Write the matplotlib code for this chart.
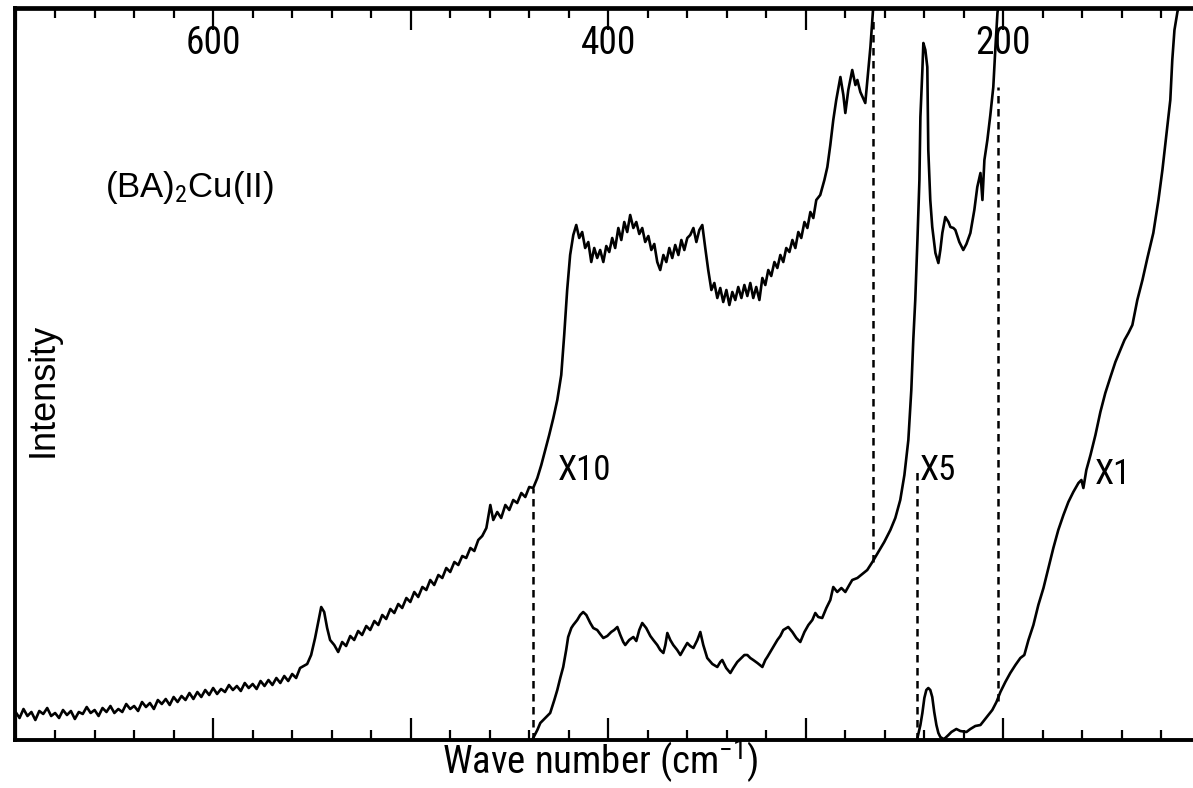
import matplotlib
matplotlib.use("Agg")
import matplotlib.pyplot as plt
from matplotlib import font_manager
from matplotlib.ticker import MultipleLocator, NullFormatter

# ---------------- data (wavenumber cm^-1, intensity arb. units) ----------------
# X10 trace: noisy baseline part
x10_base_w = [700, 698, 696, 694, 692, 690, 688, 686, 684, 682, 680, 678, 676, 674, 672, 670,
              668, 666, 664, 662, 660, 658, 656, 654, 652, 650, 648, 646, 644, 642, 640, 638,
              636, 634, 632, 630, 628, 626, 624, 622, 620, 618, 616, 614, 612, 610, 608, 606,
              604, 602, 600, 598, 596, 594, 592, 590, 588, 586, 584, 582, 580, 578, 576, 574,
              572, 570, 568, 566, 564, 562, 560, 558, 556]
x10_base_i = [2.8, 2.2, 3.1, 2.4, 2.8, 2.0, 2.9, 2.6, 3.2, 2.4, 2.7, 2.2, 3.0, 2.5, 2.9, 2.1,
              2.8, 2.6, 3.3, 2.7, 3.0, 2.4, 3.2, 2.8, 3.4, 2.7, 3.1, 2.8, 3.6, 3.1, 3.4, 2.9,
              3.8, 3.3, 3.7, 3.1, 4.0, 3.6, 4.1, 3.5, 4.3, 3.8, 4.4, 4.0, 4.7, 4.1, 4.8, 4.3,
              5.0, 4.5, 5.2, 4.6, 5.1, 4.8, 5.5, 5.0, 5.4, 4.9, 5.7, 5.2, 5.6, 5.1, 5.9, 5.4,
              6.0, 5.5, 6.2, 5.7, 6.4, 5.9, 6.6, 6.2, 7.2]
# X10 trace: band region
x10_band_w = [552.4, 550.4, 548.4, 546.8, 545.3, 543.8, 542.3, 540.8, 538.7, 536.7, 534.7, 532.7,
              530.6, 528.6, 526.6, 524.6, 522.5, 520.5, 518.4, 516.4, 514.4, 512.4, 510.3, 508.3,
              506.3, 504.3, 502.2, 500.2, 498.2, 496.2, 494.1, 492.1, 490.1, 488.1, 486.0, 484.0,
              482.0, 480.0, 477.9, 475.9, 473.9, 471.9, 469.8, 467.8, 465.8, 463.8, 461.7, 459.7,
              458.2, 456.2, 454.2, 452.1, 450.1, 448.1, 446.1, 444.0, 442.0, 440.0, 438.0, 435.9,
              433.9, 431.9, 429.9, 427.8, 425.8, 423.8, 422.3, 420.8, 419.3, 417.7, 416.2, 414.7,
              413.2, 411.7, 410.1, 408.6, 407.1, 405.6, 404.1, 402.5, 401.0, 399.5, 398.0, 396.5,
              394.9, 393.4, 391.9, 390.4, 388.9, 387.3, 385.8, 384.3, 382.8, 381.3, 379.7, 378.2,
              376.7, 375.2, 373.7, 372.1, 370.6, 369.1, 367.6, 366.1, 364.5, 363.0, 361.5, 360.0,
              358.5, 356.9, 355.4, 353.9, 352.4, 350.9, 349.4, 347.8, 346.3, 344.8, 343.3, 341.8,
              340.2, 338.7, 337.2, 335.7, 334.2, 332.6, 331.1, 329.6, 328.1, 326.6, 325.1, 323.5,
              322.0, 320.5, 319.0, 317.5, 315.9, 314.4, 312.9, 311.4, 309.9, 308.3, 306.8, 305.3,
              303.8, 302.3, 300.7, 299.2, 297.7, 296.2, 294.7, 292.7, 290.6, 289.1, 287.6, 286.1,
              284.6, 282.5, 281.0, 280.0, 278.5, 276.5, 274.9, 273.9, 272.4, 269.9, 268.4, 267.3,
              265.8]
x10_band_i = [7.6, 8.5, 10.2, 11.8, 13.3, 12.8, 11.2, 10.0, 9.5, 8.8, 9.8, 9.4,
              10.4, 10.0, 10.9, 10.5, 11.4, 11.0, 11.9, 11.5, 12.5, 12.1, 13.1, 12.7,
              13.6, 13.2, 14.2, 13.8, 14.8, 14.3, 15.3, 15.0, 16.0, 15.5, 16.5, 16.2,
              17.2, 16.8, 17.8, 17.5, 18.4, 18.2, 19.2, 18.9, 20.0, 20.4, 21.2, 23.5,
              22.0, 22.8, 22.2, 23.5, 23.0, 24.0, 23.7, 24.7, 24.3, 25.3, 25.2, 26.2,
              27.5, 29.0, 30.5, 32.2, 34.0, 36.5, 40.5, 45.0, 48.5, 50.5, 51.5, 50.2,
              50.8, 49.2, 49.8, 47.8, 49.2, 48.2, 49.0, 47.8, 49.4, 48.8, 50.2, 49.2,
              51.2, 50.0, 51.8, 50.8, 52.5, 51.2, 51.8, 50.6, 51.2, 49.8, 50.4, 49.0,
              49.6, 47.8, 47.0, 48.5, 47.8, 49.2, 48.2, 49.5, 48.5, 50.0, 49.0, 50.2,
              50.5, 51.2, 49.8, 51.0, 51.5, 49.2, 47.0, 45.0, 45.7, 44.2, 45.2, 43.8,
              45.0, 43.5, 44.8, 44.0, 45.3, 44.2, 45.5, 44.4, 45.7, 44.2, 45.3, 44.0,
              46.2, 45.5, 47.0, 46.4, 47.8, 47.2, 48.5, 47.8, 49.2, 48.8, 50.0, 49.2,
              50.8, 50.2, 51.8, 51.2, 52.8, 52.2, 54.0, 54.5, 56.0, 57.3, 59.5, 62.0,
              64.0, 66.3, 64.5, 62.7, 65.0, 67.0, 65.5, 66.0, 64.8, 63.7, 67.0, 69.3,
              73.5]

# X5 trace
x5_w = [438.0, 435.9, 434.4, 431.9, 429.4, 427.3, 425.8, 424.3, 422.8, 421.3, 420.3, 418.7,
        417.7, 415.7, 414.2, 412.7, 411.1, 409.1, 407.6, 405.6, 404.1, 402.5, 400.5, 398.5,
        397.0, 395.4, 393.9, 392.4, 391.4, 389.4, 387.3, 385.8, 384.3, 382.8, 380.8, 378.7,
        377.2, 375.2, 373.7, 372.1, 371.1, 370.1, 368.6, 367.1, 365.1, 363.5, 361.5, 360.0,
        358.5, 356.9, 354.9, 353.4, 351.9, 349.9, 347.3, 344.8, 343.3, 342.3, 340.3, 338.2,
        336.7, 334.7, 332.6, 331.1, 329.6, 328.1, 326.6, 324.5, 322.0, 320.5, 319.5, 318.0,
        315.9, 314.4, 312.9, 311.4, 308.9, 306.8, 304.8, 302.8, 300.7, 298.7, 296.7, 295.2,
        293.7, 291.7, 289.6, 287.6, 286.1, 284.1, 282.0, 280.0, 278.0, 276.5, 273.9, 271.4,
        268.9, 266.3, 263.3, 260.3, 257.2, 254.7, 252.2, 250.1, 248.1, 246.6, 245.6, 244.6,
        243.5, 242.5, 242.0, 241.0, 240.5, 239.5, 238.5, 238.0, 237.0, 236.0, 234.4, 232.9,
        231.9, 230.9, 229.4, 227.8, 226.8, 225.3, 224.3, 222.3, 220.3, 218.7, 216.7, 214.7,
        213.2, 211.6, 210.6, 209.6, 208.1, 206.6, 205.1, 204.1, 203.0, 202.5]
x5_i = [0.2, 1.0, 1.7, 2.2, 2.7, 4.0, 5.0, 6.2, 7.3, 9.0, 10.3, 11.2,
        11.5, 12.0, 12.5, 12.8, 12.5, 11.7, 11.2, 11.0, 10.6, 10.2, 10.4, 10.8,
        11.0, 11.3, 10.5, 9.8, 9.5, 10.0, 10.3, 9.9, 11.0, 11.7, 11.2, 10.4,
        10.0, 9.5, 9.0, 8.7, 9.5, 10.7, 10.0, 9.5, 9.0, 8.5, 9.2, 9.7,
        9.4, 9.2, 10.0, 10.8, 9.5, 8.2, 7.6, 7.3, 7.8, 8.0, 7.2, 6.7,
        7.2, 7.8, 8.2, 8.5, 8.5, 8.2, 8.0, 7.7, 7.3, 8.0, 8.3, 8.8,
        9.5, 10.0, 10.4, 11.0, 11.3, 10.8, 10.2, 9.8, 10.8, 11.5, 12.0, 12.7,
        12.3, 12.2, 13.2, 14.0, 15.3, 14.8, 15.2, 14.8, 15.5, 16.0, 16.2, 16.6,
        17.0, 17.8, 18.8, 19.8, 21.0, 22.2, 24.0, 26.5, 30.0, 35.0, 40.0, 44.0,
        50.0, 56.0, 62.3, 67.0, 69.7, 69.0, 67.3, 59.0, 54.0, 51.3, 48.7, 47.7,
        49.0, 50.7, 52.3, 51.8, 51.3, 51.2, 51.0, 49.8, 49.0, 49.6, 50.7, 53.0,
        55.3, 56.7, 54.0, 58.0, 60.0, 62.5, 65.3, 69.0, 72.7, 73.5]

# X1 trace
x1_w = [243.5, 242.0, 241.0, 240.0, 239.0, 238.0, 237.0, 236.0, 235.0, 233.9, 232.9, 231.9,
        230.4, 229.4, 227.8, 226.3, 223.8, 221.8, 218.7, 216.7, 214.2, 211.6, 209.6, 207.6,
        205.6, 203.5, 201.5, 199.0, 196.5, 193.9, 191.4, 189.4, 187.3, 184.8, 182.3, 179.7,
        177.2, 174.7, 172.2, 169.6, 167.1, 164.6, 162.0, 160.5, 159.5, 158.0, 155.9, 153.4,
        150.9, 148.4, 145.8, 143.3, 140.8, 138.7, 136.7, 134.7, 132.2, 129.6, 127.1, 124.1,
        121.5, 119.5, 117.5, 115.5, 114.5, 113.4, 111.9, 110.4]
x1_i = [0.2, 1.5, 2.7, 4.2, 5.0, 5.2, 5.0, 4.3, 2.8, 1.5, 0.7, 0.3,
        0.1, 0.2, 0.5, 0.8, 1.1, 0.9, 0.8, 1.1, 1.4, 1.5, 2.0, 2.5,
        3.0, 3.8, 4.8, 5.8, 6.7, 7.5, 8.2, 8.5, 10.0, 11.5, 13.5, 15.2,
        17.2, 19.2, 21.0, 22.5, 23.8, 24.8, 25.7, 26.0, 25.2, 27.0, 28.5, 30.5,
        32.8, 34.7, 36.3, 37.8, 39.0, 40.0, 40.7, 41.5, 44.0, 46.0, 48.2, 50.7,
        54.0, 57.0, 60.5, 64.0, 68.0, 71.0, 72.8, 74.0]

# dashed gain-change markers: (wavenumber, lower intensity, upper intensity)
marker_w = [438.0, 265.8, 243.8, 202.5]
marker_lo = [0.0, 17.8, 0.0, 3.9]
marker_hi = [25.2, 72.0, 27.0, 65.3]

# labels
tick_label_w = [600, 400, 200]
gain_labels = ["X10", "X5", "X1"]
gain_label_w = [412.0, 233.0, 144.5]
gain_label_i = [27.0, 27.0, 26.5]
sample_label = r"(BA)$_2$Cu(II)"
xlabel = r"Wave number (cm$^{-1}$)"
ylabel = "Intensity"

# ---------------- plotting ----------------
avail = {f.name for f in font_manager.fontManager.ttflist}
fam = [f for f in ["Liberation Sans Narrow", "Roboto Condensed", "Liberation Sans", "DejaVu Sans"] if f in avail]
wide = [f for f in ["Liberation Sans", "DejaVu Sans"] if f in avail]
plt.rcParams["font.family"] = fam
plt.rcParams["mathtext.fontset"] = "custom"
plt.rcParams["mathtext.rm"] = fam[0]
plt.rcParams["mathtext.it"] = fam[0]

W, H = 1193, 788
fig = plt.figure(figsize=(W / 100, H / 100), dpi=100)
ax = fig.add_axes([15 / W, 48 / H, 1180 / W, 732 / H])

lw = 1.9
ax.plot(x10_base_w + x10_band_w, x10_base_i + x10_band_i, color="black", lw=lw, solid_joinstyle="round")
ax.plot(x5_w, x5_i, color="black", lw=lw, solid_joinstyle="round")
ax.plot(x1_w, x1_i, color="black", lw=lw, solid_joinstyle="round")
for w, lo, hi in zip(marker_w, marker_lo, marker_hi):
    ax.plot([w, w], [lo, hi], color="black", lw=1.8, linestyle=(0, (3.0, 2.2)))

ax.set_xlim(700.3, 103.0)
ax.set_ylim(0, 73.2)

ax.xaxis.set_major_locator(MultipleLocator(100))
ax.xaxis.set_minor_locator(MultipleLocator(20))
ax.xaxis.set_major_formatter(NullFormatter())
ax.set_yticks([])
ax.tick_params(axis="x", which="major", direction="in", top=True, bottom=True,
               length=16, width=1.6)
ax.tick_params(axis="x", which="minor", direction="in", top=True, bottom=True,
               length=7, width=1.6)
for s in ["left", "bottom"]:
    ax.spines[s].set_linewidth(2.8)
ax.spines["top"].set_linewidth(3.4)
ax.spines["right"].set_visible(False)

for w in tick_label_w:
    ax.text(w, 69.6, str(w), ha="center", va="center", fontsize=27)

for lab, w, i in zip(gain_labels, gain_label_w, gain_label_i):
    ax.text(w, i, lab, ha="center", va="center", fontsize=25)

ax.text(654.5, 55.2, sample_label, ha="left", va="center", fontsize=25, family=wide)
ax.text(686.0, 35.0, ylabel, ha="center", va="center", rotation=90, fontsize=26, family=wide)
fig.text(600 / W, 1 - 762 / H, xlabel, ha="center", va="center", fontsize=28)

fig.savefig("out.png", dpi=100)
